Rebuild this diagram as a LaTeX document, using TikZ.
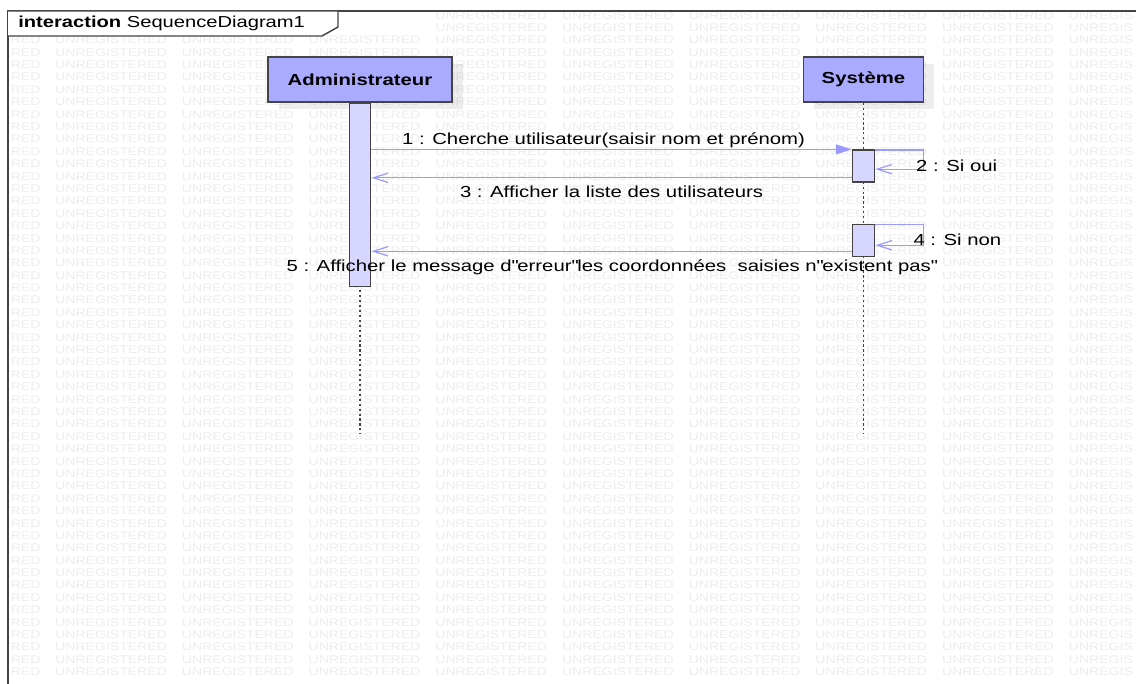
\documentclass[tikz,border=0pt]{standalone}
\usepackage{fontspec}
\setmainfont{Liberation Sans}[FakeStretch=1.27]
\usepackage{tikz}
\usetikzlibrary{arrows.meta,positioning,shadows}
\definecolor{headfill}{HTML}{AAAAFF}
\definecolor{actfill}{HTML}{D6D6FF}
\definecolor{msgline}{HTML}{9A9AFF}
\definecolor{framegray}{HTML}{444444}

\begin{document}
\begin{tikzpicture}[x=0.75pt,y=-0.75pt,font=\fontsize{12}{14}\selectfont,
  hd/.style={rectangle,draw=framegray,line width=1.1pt,fill=headfill,minimum height=33.75pt,font=\fontsize{12}{14}\selectfont\bfseries,drop shadow={shadow xshift=8pt,shadow yshift=-5.5pt,opacity=.07,fill=black}},
  act/.style={rectangle,draw=framegray,line width=1.1pt,fill=actfill,inner sep=0pt,minimum width=16.5pt},
  life/.style={draw=framegray,line width=1.3pt,dash pattern=on 1.6pt off 2.1pt},
  msg/.style={draw=msgline,line width=0.9pt},
  lbl/.style={inner sep=1pt},
  wm/.style={text=black!7,font=\fontsize{8.3}{9}\selectfont,inner sep=0pt,anchor=west}]
  \useasboundingbox[fill=white] (0,0) rectangle (1136,684);

  \foreach \r in {0,...,51}{
    \node[wm] at (10.5,{40+12.39*\r}) {RED};
    \foreach \c in {0,...,7}
      \node[wm] at ({55+126.7*\c},{40+12.39*\r}) {UNREGISTERED};
    \node[wm] at (1068.6,{40+12.39*\r}) {UNREGIS};
  }
  \foreach \r in {-2,-1}{
    \foreach \c in {3,...,7}
      \node[wm] at ({55+126.7*\c},{40+12.39*\r}) {UNREGISTERED};
    \node[wm] at (1068.6,{40+12.39*\r}) {UNREGIS};
  }

  \draw[framegray,line width=1.5pt] (8,684) -- (8,11) -- (1136,11);
  \filldraw[fill=white,draw=framegray,line width=1.1pt] (8,11) -- (338,11) -- (338,27) -- (322,36) -- (8,36);
  \node[anchor=west,inner sep=0pt,font=\fontsize{11.9}{13}\selectfont] (ttl) at (18,23) {\textbf{interaction} SequenceDiagram1};

  \node[hd,minimum width=138pt] (adm) at (360,79.5) {Administrateur};
  \node[hd,minimum width=90pt] (sys) at (863.5,79.5) {Système};

  \coordinate[below=248pt of adm] (admend);
  \coordinate[below=248pt of sys] (sysend);
  \draw[life] (adm.south) -- (admend);
  \draw[life] (sys.south) -- (sysend);

  \node[act,minimum width=16pt,minimum height=137.25pt,below=0pt of adm] (adm1) {};
  \node[act,minimum height=24pt,below=35pt of sys] (sys1) {};
  \node[act,minimum height=24pt,below=30.5pt of sys1] (sys2) {};

  \draw[msg,-{Triangle[length=12pt,width=7.5pt]}] (adm1.east |- sys1.north) -- (sys1.north west)
    node[lbl,midway,above,xshift=-6pt] {1 : Cherche utilisateur(saisir nom et prénom)};

  \draw[msg,-{Straight Barb[length=11pt,width=7pt]}] ([yshift=-0.5pt]sys1.north east) -- ++(48,0) |- ([yshift=10.3pt]sys1.south east);
  \node[lbl,anchor=west] (oui) at ([xshift=29.5pt]sys1.east) {2 : Si oui};

  \coordinate (ret3) at ([yshift=3.8pt]sys1.south west);
  \draw[msg,-{Straight Barb[length=11pt,width=7pt]}] (ret3) -- (ret3 -| adm1.east)
    node[lbl,midway,below=5pt] {3 : Afficher la liste des utilisateurs};

  \draw[msg,-{Straight Barb[length=11pt,width=7pt]}] ([yshift=-0.5pt]sys2.north east) -- ++(48,0) |- ([yshift=8.8pt]sys2.south east);
  \node[lbl,anchor=west] (non) at ([xshift=27.5pt]sys2.east) {4 : Si non};

  \coordinate (ret5) at ([yshift=4.3pt]sys2.south west);
  \draw[msg,-{Straight Barb[length=11pt,width=7pt]}] (ret5) -- (ret5 -| adm1.east)
    node[lbl,midway,below=5pt] {5 : Afficher le message d\textquotedbl erreur\textquotedbl les coordonnées~ saisies n\textquotedbl existent pas\textquotedbl};
\end{tikzpicture}
\end{document}
